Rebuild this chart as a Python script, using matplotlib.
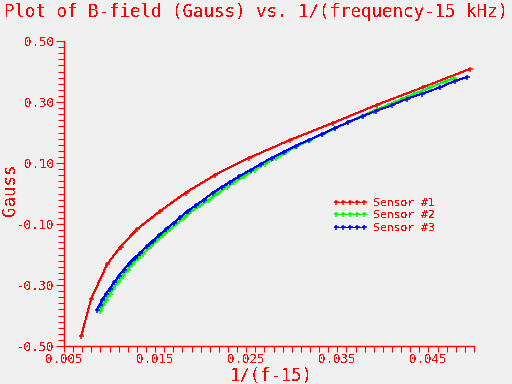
import matplotlib
matplotlib.use("Agg")
import matplotlib.pyplot as plt
from matplotlib.ticker import MultipleLocator, FixedLocator, FormatStrFormatter

# ---- data ----
s1_x = [0.00690, 0.00797, 0.00973, 0.01121, 0.01305, 0.01558, 0.01837,
        0.02152, 0.02533, 0.02984, 0.03448, 0.03936, 0.04445, 0.04951]
s1_y = [-0.466, -0.346, -0.232, -0.174, -0.116, -0.057, 0.003,
        0.060, 0.117, 0.176, 0.231, 0.291, 0.349, 0.408]

s2_x = [0.00899, 0.00929, 0.00962, 0.01000, 0.01038, 0.01093, 0.01143, 0.01198,
        0.01251, 0.01317, 0.01365, 0.01456, 0.01521, 0.01591, 0.01668, 0.01742,
        0.01826, 0.01899, 0.01998, 0.02093, 0.02189, 0.02284, 0.02371, 0.02478,
        0.02591, 0.02709, 0.02830, 0.02940, 0.03057, 0.03196, 0.03343, 0.03478,
        0.03613, 0.03767, 0.03899, 0.04053, 0.04214, 0.04346, 0.04522, 0.04679,
        0.04778]
s2_y = [-0.384, -0.366, -0.349, -0.330, -0.313, -0.291, -0.270, -0.251,
        -0.231, -0.210, -0.197, -0.173, -0.152, -0.135, -0.116, -0.098,
        -0.078, -0.058, -0.039, -0.020, 0.001, 0.020, 0.038, 0.056,
        0.078, 0.098, 0.117, 0.136, 0.155, 0.176, 0.195, 0.215,
        0.233, 0.254, 0.271, 0.290, 0.311, 0.327, 0.348, 0.367,
        0.378]

s3_x = [0.00859, 0.00892, 0.00921, 0.00958, 0.01000, 0.01053, 0.01101, 0.01156,
        0.01209, 0.01277, 0.01338, 0.01412, 0.01475, 0.01547, 0.01624, 0.01705,
        0.01778, 0.01859, 0.01947, 0.02035, 0.02134, 0.02229, 0.02317, 0.02426,
        0.02547, 0.02665, 0.02782, 0.02910, 0.03046, 0.03192, 0.03335, 0.03478,
        0.03621, 0.03782, 0.03921, 0.04104, 0.04266, 0.04426, 0.04629, 0.04786,
        0.04925]
s3_y = [-0.382, -0.365, -0.349, -0.330, -0.313, -0.291, -0.270, -0.251,
        -0.231, -0.210, -0.194, -0.173, -0.155, -0.136, -0.116, -0.096,
        -0.078, -0.057, -0.039, -0.020, 0.003, 0.020, 0.037, 0.057,
        0.077, 0.098, 0.117, 0.136, 0.157, 0.176, 0.195, 0.215,
        0.234, 0.254, 0.271, 0.290, 0.311, 0.327, 0.348, 0.369,
        0.382]

series_labels = ["Sensor #1", "Sensor #2", "Sensor #3"]
x_ticks = [0.005, 0.015, 0.025, 0.035, 0.045]
y_ticks = [-0.50, -0.30, -0.10, 0.10, 0.30, 0.50]

title = "Plot of B-field (Gauss) vs. 1/(frequency-15 kHz)"
xlabel = "1/(f-15)"
ylabel = "Gauss"

# ---- style ----
RED = "#ff0000"
BG = "#f0f0f0"
MONO = "DejaVu Sans Mono"
plt.rcParams["text.antialiased"] = False
plt.rcParams["font.family"] = MONO

fig = plt.figure(figsize=(5.12, 3.84), dpi=100, facecolor=BG)
ax = fig.add_axes([64 / 512, 1 - 346 / 384, 410 / 512, 305 / 384], facecolor=BG)

for xs, ys, col, lab in [(s1_x, s1_y, "#ff0000", series_labels[0]),
                         (s2_x, s2_y, "#00ff00", series_labels[1]),
                         (s3_x, s3_y, "#0000ff", series_labels[2])]:
    ax.plot(xs, ys, color=col, lw=0.65, marker="+", ms=3.6, mew=1.1,
            antialiased=False, label=lab, clip_on=False)

ax.set_xlim(0.005, 0.050)
ax.set_ylim(-0.5, 0.5)

for sp in ["top", "right"]:
    ax.spines[sp].set_visible(False)
for sp in ["left", "bottom"]:
    ax.spines[sp].set_color(RED)
    ax.spines[sp].set_linewidth(1.0)

ax.xaxis.set_major_locator(FixedLocator(x_ticks))
ax.xaxis.set_minor_locator(MultipleLocator(0.001))
ax.yaxis.set_major_locator(FixedLocator(y_ticks))
ax.yaxis.set_minor_locator(MultipleLocator(0.02))
ax.xaxis.set_major_formatter(FormatStrFormatter("%.3f"))
ax.yaxis.set_major_formatter(FormatStrFormatter("%.2f"))

ax.tick_params(axis="both", which="both", colors=RED, labelcolor=RED,
               direction="out", width=0.75)
ax.tick_params(axis="x", which="major", length=4, labelsize=9, pad=1)
ax.tick_params(axis="x", which="minor", length=4)
ax.tick_params(axis="y", which="major", length=6, labelsize=9, pad=1)
ax.tick_params(axis="y", which="minor", length=4)

fig.text(0.5, 1 - 12 / 384, title, ha="center", va="center", color=RED,
         fontsize=12.6)
fig.text(271 / 512, 1 - 376 / 384, xlabel, ha="center", va="center",
         color=RED, fontsize=12.4)
fig.text(10 / 512, 1 - 190 / 384, ylabel, ha="center", va="center",
         color=RED, fontsize=12.6, rotation=90)

leg = ax.legend(loc="upper left", bbox_to_anchor=((333 - 64) / 410, (346 - 198) / 305),
                frameon=False, numpoints=5, fontsize=8.2, handlelength=3.0,
                handletextpad=0.5, labelspacing=0.2, borderpad=0,
                borderaxespad=0, labelcolor=RED)

fig.savefig("out.png", dpi=100, facecolor=BG)
